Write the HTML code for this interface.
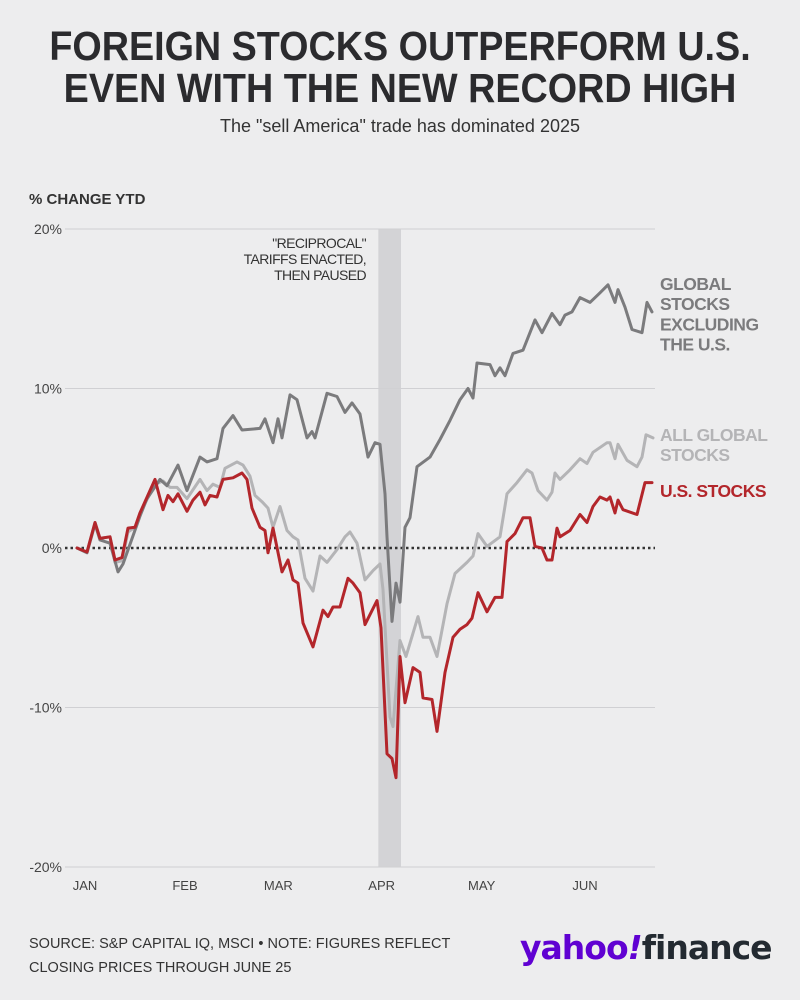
<!DOCTYPE html>
<html><head><meta charset="utf-8"><style>
body{margin:0;background:#ececed;}
#wrap{position:relative;width:800px;height:1000px;background:#ededee;font-family:"Liberation Sans",sans-serif;overflow:hidden;}
.t{position:absolute;left:0;width:800px;text-align:center;}
</style></head><body>
<div id="wrap">
<div class="t" style="top:25px;font-weight:bold;font-size:41px;line-height:42px;color:#2b2b2e;transform:scaleX(0.92);transform-origin:400px 0;">FOREIGN STOCKS OUTPERFORM U.S.<br>EVEN WITH THE NEW RECORD HIGH</div>
<div class="t" style="top:116px;font-size:18px;color:#333;">The "sell America" trade has dominated 2025</div>
<svg id="chart" width="800" height="1000" style="position:absolute;left:0;top:0;"></svg>
<div style="position:absolute;left:29px;top:932px;font-size:14.5px;line-height:24px;color:#333;">SOURCE: S&amp;P CAPITAL IQ, MSCI • NOTE: FIGURES REFLECT<br>CLOSING PRICES THROUGH JUNE 25</div>
<div style="position:absolute;left:520px;top:928px;font-family:'DejaVu Sans',sans-serif;font-weight:bold;font-size:33px;letter-spacing:-1px;"><span style="color:#6001d2;">yahoo<i>!</i></span><span style="color:#232a31;">finance</span></div>
</div>
<script>
const yTicks=[20,10,0,-10,-20];
const yTickLabels=["20%","10%","0%","-10%","-20%"];
const months=["JAN","FEB","MAR","APR","MAY","JUN"];
const monthDays=[5,35,63,94,124,155];
const shadeDays=[93,99.8];
const usDays=[2.6,5.6,8,9.5,12.5,14,16.1,17.9,20,21.5,26,28.4,29.9,31.4,32.9,35.6,37.4,39.5,41,42.5,44.6,46.4,49.4,52.1,53.6,55.1,57.5,59,59.9,61.4,64.1,65.9,67.4,68.9,70.4,73.4,76.4,77.9,79.4,81.5,83.9,85.4,87.5,89,92.6,93.8,95.6,97.1,98.3,99.5,101,103.4,105.5,106.4,109.1,110.6,113,115.4,117.5,119.6,121.1,122.9,125.6,128,130.1,131.6,134,136.4,138.5,140,142.1,143.6,145.1,146.6,147.5,150.5,153.5,155.6,157.4,159.5,161.6,162.5,164,164.9,166.4,170.6,173,175.1];
const usVals=[0,-0.25,1.6,0.6,0.7,-0.75,-0.6,1.25,1.3,2.2,4.3,2.4,3.3,2.9,3.4,2.3,3.0,3.5,2.7,3.3,3.2,4.3,4.4,4.7,4.3,2.5,1.3,1.1,-0.3,1.25,-1.5,-0.75,-2,-2.2,-4.7,-6.2,-3.9,-4.3,-3.7,-3.7,-1.9,-2.2,-2.8,-4.8,-3.3,-5,-12.9,-13.2,-14.4,-6.8,-9.7,-7.5,-7.8,-9.4,-9.5,-11.5,-7.8,-5.6,-5.1,-4.8,-4.4,-2.8,-4.0,-3.1,-3.1,0.4,0.9,1.9,1.9,0.1,0,-0.75,-0.75,1.25,0.7,1.1,2.1,1.6,2.6,3.2,3.0,3.2,2.2,3.0,2.4,2.1,4.1,4.1];
const glDays=[2.6,5.6,8,9.5,12.5,14,16.1,17.9,20,21.5,26,28.4,30.5,32.6,35.6,39.5,41.6,43.4,45.5,47,50.6,52.4,54.5,56,58.1,59.9,61.4,63.5,65.6,67.4,68.9,71,73.4,75.5,77.6,80.6,83,84.5,86.6,89,91.5,93.5,94.4,96.5,97.4,99.5,101.3,104.9,106.4,108.5,110.6,113.6,116,119.6,121.4,122.9,125.6,129.5,131.6,134.6,137.6,139.1,140.9,143.6,145.1,146,147.5,150.5,153.5,155.6,157.4,161.6,162.5,164,164.9,167.6,170.6,172.1,173.3,175.4];
const glVals=[0,-0.25,1.6,0.6,0.7,-0.9,-0.8,1.0,1.3,2.2,4.0,4.2,3.8,3.8,3.1,4.3,3.6,4.0,3.8,5.0,5.4,5.2,4.5,3.3,2.9,2.5,1.3,2.6,1.1,0.7,0.5,-1.9,-2.7,-0.5,-0.9,-0.1,0.7,1.0,0.3,-2,-1.4,-1.0,-2.6,-10.6,-11.2,-5.8,-6.8,-4.3,-5.6,-5.6,-6.8,-3.5,-1.6,-0.9,-0.5,0.9,0.1,0.7,3.4,4.1,4.9,4.7,3.6,3.0,3.5,4.7,4.3,4.9,5.6,5.3,6.0,6.6,6.6,5.6,6.5,5.5,5.1,5.7,7.1,6.9];
const exDays=[2.6,5.6,8,9.5,12.5,14.9,16.4,21.5,23.6,27.5,29.6,32.9,35.6,39.5,41.6,44.6,46.4,49.4,52.1,57.5,59,61.4,62.9,64.1,66.5,68.6,71.6,73.1,74,77.6,80.6,83,85.1,87.5,89.9,92,93.5,95,95.6,97.1,98.3,99.5,101,102.5,104.6,108.5,111.5,114.5,117.5,119.9,121.4,122.6,126.5,128,129.5,131,133.4,136.4,140,142.1,145.1,147.5,149,151.1,153.5,156.5,159.5,161.9,164,164.9,167,169.1,172.1,173.6,175.1];
const exVals=[0,-0.3,1.5,0.5,0.3,-1.5,-1.0,2.0,3.1,4.3,3.9,5.2,3.6,5.7,5.4,5.6,7.5,8.3,7.4,7.5,8.1,6.6,8.1,6.9,9.6,9.3,6.9,7.3,6.9,9.7,9.5,8.5,9.1,8.4,5.7,6.6,6.5,3.4,0.7,-4.6,-2.2,-3.4,1.3,1.9,5.1,5.7,6.8,8.0,9.3,10.0,9.4,11.6,11.5,10.8,11.3,10.8,12.2,12.4,14.3,13.5,14.7,14.0,14.6,14.8,15.7,15.4,16.0,16.5,15.4,16.2,15.1,13.7,13.5,15.4,14.8];

const svg=document.getElementById('chart');
const NS='http://www.w3.org/2000/svg';
const X0=75,X1=655,D0=2,D1=176;
const xs=d=>X0+(d-D0)*(X1-X0)/(D1-D0);
const ys=v=>548-v*15.95;
function mk(tag,attrs){const e=document.createElementNS(NS,tag);for(const k in attrs)e.setAttribute(k,attrs[k]);svg.appendChild(e);return e;}
let sh=mk('rect',{x:xs(shadeDays[0]),y:229,width:xs(shadeDays[1])-xs(shadeDays[0]),height:638,fill:'#d3d3d6'});


yTicks.forEach((t,i)=>{
  let g=mk('line',{x1:65,x2:655,y1:ys(t),y2:ys(t),stroke:t===0?'#333':'#d0d0d3','stroke-width':t===0?2.5:1,'stroke-dasharray':t===0?'2.5 3':'none'});
  
  
  let tx=mk('text',{x:62,y:ys(t)+5,'text-anchor':'end','font-size':14,fill:'#444','font-family':'Liberation Sans, sans-serif'});
  tx.textContent=yTickLabels[i];
  
  
});
months.forEach((m,i)=>{
  let tx=mk('text',{x:xs(monthDays[i]),y:890,'text-anchor':'middle','font-size':13,fill:'#444','font-family':'Liberation Sans, sans-serif'});
  tx.textContent=m;
  
  
});
function line(days,vals,color,name){
  let d=days.map((x,i)=>(i?'L':'M')+xs(x).toFixed(1)+','+ys(vals[i]).toFixed(1)).join('');
  let p=mk('path',{d:d,fill:'none',stroke:color,'stroke-width':3,'stroke-linejoin':'round','stroke-linecap':'round'});
  
  
}
line(glDays,glVals,'#b4b4b6','all-global-stocks-line');
line(exDays,exVals,'#7b7b7d','global-ex-us-line');
line(usDays,usVals,'#b3262b','us-stocks-line');
function label(lines,x,y,color,name,anchor,weight,size,ls){
  let tx=mk('text',{x:x,y:y,'text-anchor':anchor,'font-size':size,fill:color,'font-weight':weight,'letter-spacing':ls,'font-family':'Liberation Sans, sans-serif'});
  
  
  lines.forEach((l,i)=>{let s=document.createElementNS(NS,'tspan');s.setAttribute('x',x);s.setAttribute('dy',i?size*1.15:0);s.textContent=l;tx.appendChild(s);});
}
label(['% CHANGE YTD'],29,204,'#333','y-axis-title','start','bold',15,0);
label(['"RECIPROCAL"','TARIFFS ENACTED,','THEN PAUSED'],366,248,'#333','tariff-annotation','end','normal',14,-0.6);
label(['GLOBAL','STOCKS','EXCLUDING','THE U.S.'],660,290,'#7b7b7d','global-ex-us-label','start','bold',17.5,-0.5);
label(['ALL GLOBAL','STOCKS'],660,441,'#b4b4b6','all-global-label','start','bold',17.5,-0.5);
label(['U.S. STOCKS'],660,497,'#b3262b','us-stocks-label','start','bold',17.5,-0.5);
</script>
</body></html>
